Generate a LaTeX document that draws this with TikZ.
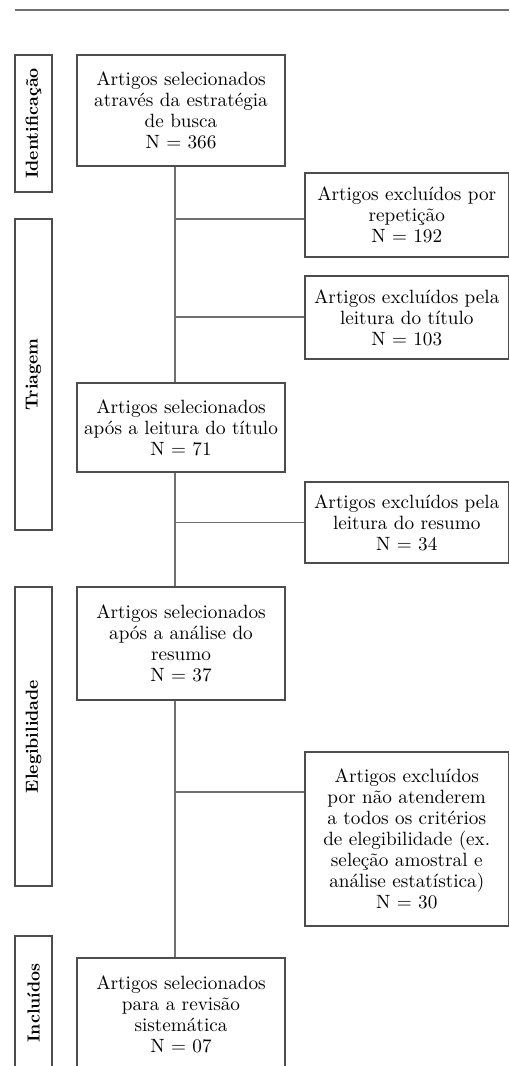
\documentclass[tikz,border=0pt]{standalone}
\usepackage{fontspec}
\setmainfont{lmroman10-regular.otf}[BoldFont=lmroman10-bold.otf]
\definecolor{boxgray}{HTML}{4D4D4D}
\definecolor{linegray}{HTML}{707070}
\begin{document}
\begin{tikzpicture}[x=1pt,y=-1pt,
  box/.style={draw=boxgray, line width=1.1pt, align=center, inner sep=0pt,
    font=\fontsize{19.2}{21}\selectfont, text=black},
  mainbox/.style={box, minimum width=208pt},
  exbox/.style={box, minimum width=203.5pt},
  stagebox/.style={draw=boxgray, line width=1.1pt, rotate=90, minimum height=37pt,
    inner sep=0pt, font=\bfseries\fontsize{17.5}{21}\selectfont},
  link/.style={draw=linegray, line width=1.1pt}]
\useasboundingbox (0,0) rectangle (509,1066);
\clip (0,0) rectangle (509,1066);

% top rule
\coordinate (r0) at (15,10);
\coordinate (r1) at (509,10);
\draw[link] (r0) -- (r1);

% stage labels
\node[stagebox, minimum width=137pt] (s1) at (33.5,123.5) {Identificação};
\node[stagebox, minimum width=311pt] (s2) at (33.5,374.5) {Triagem};
\node[stagebox, minimum width=299pt] (s3) at (33.5,736.5) {Elegibilidade};
\node[stagebox, minimum width=134pt] (s4) at (33.5,1003) {Incluídos};

% main boxes
\node[mainbox, minimum height=111pt] (b1) at (181,110.5)
  {Artigos selecionados\\através da estratégia\\de busca\\N = 366};
\node[mainbox, minimum height=89pt] (b2) at (181,427.5)
  {Artigos selecionados\\após a leitura do título\\N = 71};
\node[mainbox, minimum height=113pt] (b3) at (181,643.5)
  {Artigos selecionados\\após a análise do\\resumo\\N = 37};
\node[mainbox, minimum height=113pt] (b4) at (181,1014.5)
  {Artigos selecionados\\para a revisão\\sistemática\\N = 07};

% exclusion boxes
\node[exbox, minimum height=84pt] (e1) at (406.75,215)
  {Artigos excluídos por\\repetição\\N = 192};
\node[exbox, minimum height=83pt] (e2) at (406.75,317.5)
  {Artigos excluídos pela\\leitura do título\\N = 103};
\node[exbox, minimum height=81pt] (e3) at (406.75,522.5)
  {Artigos excluídos pela\\leitura do resumo\\N = 34};
\node[exbox, minimum height=174pt] (e4) at (406.75,839)
  {Artigos excluídos\\por não atenderem\\a todos os critérios\\de elegibilidade (ex.\\seleção amostral e\\análise estatística)\\N = 30};

% spine
\draw[link] ([xshift=-6pt]b1.south) -- ([xshift=-6pt]b2.north);
\draw[link] ([xshift=-6pt]b2.south) -- ([xshift=-6pt]b3.north);
\draw[link] ([xshift=-6pt]b3.south) -- ([xshift=-6pt]b4.north);

% branches
\coordinate (j1) at (175,219);
\coordinate (j2) at (175,317);
\coordinate (j3) at (175,522.5);
\coordinate (j4) at (175,792);
\draw[link] (j1) -- (j1 -| e1.west);
\draw[link] (j2) -- (j2 -| e2.west);
\draw[link] (j3) -- (j3 -| e3.west);
\draw[link] (j4) -- (j4 -| e4.west);
\end{tikzpicture}
\end{document}
